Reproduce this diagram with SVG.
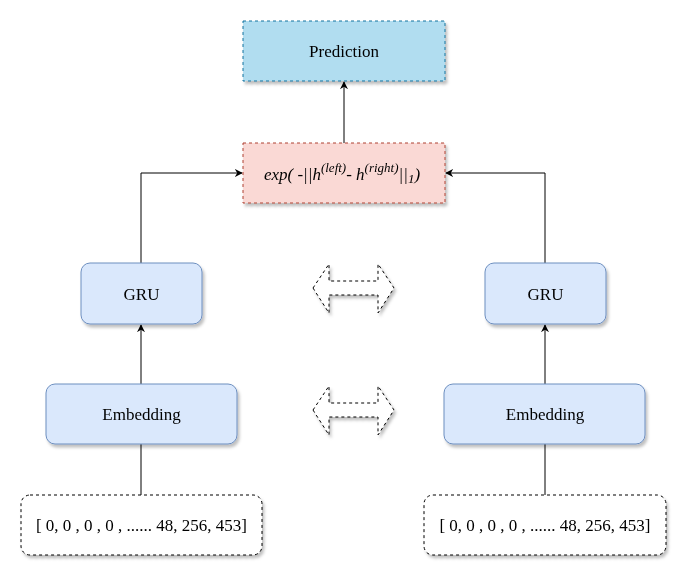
<svg xmlns="http://www.w3.org/2000/svg" width="692" height="582" viewBox="0 0 692 582">
<style>
text{font-family:"Liberation Serif","Times New Roman",serif;font-size:17px;fill:#000;text-anchor:middle;dominant-baseline:central}
.blue{fill:#dae8fc;stroke:#6c8ebf;stroke-width:1}
.pred{fill:#b1ddf0;stroke:#10739e;stroke-dasharray:3 3}
.exp{fill:#fad9d5;stroke:#ae4132;stroke-dasharray:3 3}
.inp{fill:#fff;stroke:#000;stroke-dasharray:3 3}
.dbl{fill:#fff;stroke:#000;stroke-dasharray:3 3}
.conn{fill:none;stroke:#000;stroke-width:1}
</style>
<defs>
<filter id="sh" x="-10%" y="-10%" width="130%" height="140%">
<feDropShadow dx="2" dy="3" stdDeviation="1.5" flood-color="#000" flood-opacity="0.25"/>
</filter>
<marker id="ah" viewBox="0 0 10 10" refX="9" refY="5" markerWidth="8" markerHeight="8" orient="auto" markerUnits="userSpaceOnUse">
<path d="M0,0 L10,5 L0,10 L3,5 Z" fill="#000"/>
</marker>
</defs>
<g id="connectors">
<path class="conn" d="M344,143 V82" marker-end="url(#ah)"/>
<path class="conn" d="M141,263 V173 H242" marker-end="url(#ah)"/>
<path class="conn" d="M545,263 V173 H446" marker-end="url(#ah)"/>
<path class="conn" d="M141,384 V325" marker-end="url(#ah)"/>
<path class="conn" d="M545,384 V325" marker-end="url(#ah)"/>
<path class="conn" d="M141,495 V444"/>
<path class="conn" d="M545,495 V444"/>
</g>
<g id="prediction" filter="url(#sh)">
<rect class="pred" x="243" y="21" width="202" height="60"/>
<text x="344" y="51">Prediction</text>
</g>
<g id="exp" filter="url(#sh)">
<rect class="exp" x="243" y="143" width="202" height="60"/>
<text x="342" y="174" font-style="italic">exp( -||h<tspan font-size="13" dy="-7">(left)</tspan><tspan dy="7">- h</tspan><tspan font-size="13" dy="-7">(right)</tspan><tspan dy="7">||</tspan><tspan font-size="13" dy="4">1</tspan><tspan dy="-4">)</tspan></text>
</g>
<g id="gru-left" filter="url(#sh)">
<rect class="blue" x="81" y="263" width="121" height="61" rx="9"/>
<text x="141.5" y="294">GRU</text>
</g>
<g id="gru-right" filter="url(#sh)">
<rect class="blue" x="485" y="263" width="121" height="61" rx="9"/>
<text x="545.5" y="294">GRU</text>
</g>
<g id="emb-left" filter="url(#sh)">
<rect class="blue" x="46" y="384" width="191" height="60" rx="9"/>
<text x="141.5" y="414">Embedding</text>
</g>
<g id="emb-right" filter="url(#sh)">
<rect class="blue" x="444" y="384" width="201" height="60" rx="9"/>
<text x="545" y="414">Embedding</text>
</g>
<g id="input-left" filter="url(#sh)">
<rect class="inp" x="21" y="495" width="241" height="60" rx="9"/>
<text x="141.5" y="525">[ 0, 0 , 0 , 0 , ...... 48, 256, 453]</text>
</g>
<g id="input-right" filter="url(#sh)">
<rect class="inp" x="424" y="495" width="242" height="60" rx="9"/>
<text x="545" y="525">[ 0, 0 , 0 , 0 , ...... 48, 256, 453]</text>
</g>
<g id="dbl-arrow-top" filter="url(#sh)">
<path class="dbl" d="M313,288 L329,264 V281 H378 V264 L394,288 L378,313 V295 H329 V313 Z"/>
</g>
<g id="dbl-arrow-bottom" filter="url(#sh)">
<path class="dbl" d="M313,410 L329,386 V403 H378 V386 L394,410 L378,435 V417 H329 V435 Z"/>
</g>
</svg>
